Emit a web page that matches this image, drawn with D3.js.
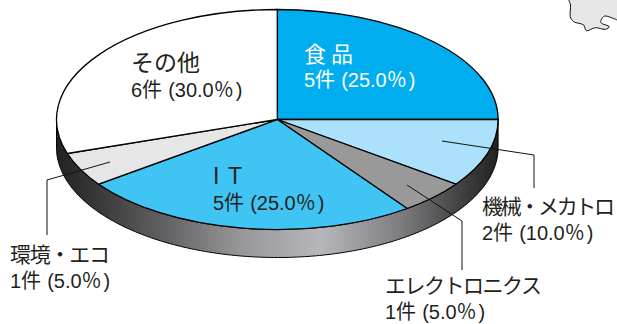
<!DOCTYPE html>
<html lang="ja"><head><meta charset="utf-8">
<script src="https://cdn.jsdelivr.net/npm/d3@7"></script>
<style>html,body{margin:0;background:#fff}svg{display:block}text{font-family:"Liberation Sans","Noto Sans CJK JP",sans-serif}</style>
</head><body><svg id="c" width="617" height="324"></svg>
<script>
const categories=["食品","機械・メカトロ","エレクトロニクス","I T","環境・エコ","その他"];
const counts=[5,2,1,5,1,6];
const shares=["25.0","10.0","5.0","25.0","5.0","30.0"];
const colors=["#00aeef","#abe1fa","#999999","#3fc4f4","#e6e6e6","#ffffff"];
const textColors=["#fff","#231f20","#231f20","#231f20","#231f20","#231f20"];
const W=617,H=324,cx=277.3,cy=119.5,rx=220.8,ry=110,depth=28;
const labelLayout=[
 {x:304,y:62,y2:87,w:49,ts:22},
 {x:482,y:214,y2:240,w:133,ts:21},
 {x:385,y:293,y2:319,w:157,ts:21},
 {x:213,y:184,y2:210,w:29,ts:23},
 {x:10,y:262,y2:288,w:100,ts:21},
 {x:131,y:71,y2:97,w:69,ts:23}];
const leaders=[null,[[442,141],[534,155],[534,188]],[[407,185],[462,221],[462,270]],null,[[110,162],[47,180],[47,235]],null];
const mapOutline=[[568.7,0],[570.5,5],[570.3,16.7],[573.7,21.7],[583.7,25],[586.3,30.7],[595.3,27.7],[605.3,29.3],[609.3,26.7],[601,22.7],[602,18.3],[604.7,16],[617,20]];
const svg=d3.select("#c");
const defs=svg.append("defs");
const grad=defs.append("linearGradient").attr("id","side").attr("gradientUnits","userSpaceOnUse").attr("x1",cx-rx).attr("x2",cx+rx).attr("y1",0).attr("y2",0);
[[0,"#222222"],[.1,"#3a3a3b"],[.25,"#636365"],[.42,"#98989b"],[.6,"#b6b7bb"],[.78,"#7d7d80"],[.9,"#474748"],[1,"#222222"]].forEach(d=>grad.append("stop").attr("offset",d[0]).attr("stop-color",d[1]));
const line=d3.line().curve(d3.curveCatmullRom);
svg.append("path").attr("d",line(mapOutline)+`L${W},0Z`).attr("fill","#e6e6e6").attr("stroke","none");
svg.append("path").attr("d",line(mapOutline)).attr("fill","none").attr("stroke","#111").attr("stroke-width",1);
const arcs=d3.pie().sort(null)(counts);
const px=d3.scaleLinear().domain([-1,1]).range([cx-rx,cx+rx]);
const py=d3.scaleLinear().domain([-1,1]).range([cy-ry,cy+ry]);
const pts=[];for(let i=0;i<=180;i++){const a=Math.PI*i/180;pts.push([Math.cos(a),Math.sin(a)]);}
const lower=pts.map(p=>[px(p[0]),py(p[1])+depth]);
const upper=pts.map(p=>[px(p[0]),py(p[1])]).reverse();
svg.append("path").attr("d",d3.line()(lower.concat(upper))+"Z").attr("fill","url(#side)").attr("stroke","#000").attr("stroke-width",1);
const arc=d3.arc().innerRadius(0).outerRadius(1);
const g=svg.append("g").attr("transform",`translate(${cx},${cy}) scale(${rx},${ry})`);
g.selectAll("path").data(arcs).join("path").attr("d",arc).attr("fill",(d,i)=>colors[i]).attr("stroke","#000").attr("stroke-width",1.3).attr("vector-effect","non-scaling-stroke");
leaders.forEach(l=>{if(l)svg.append("path").attr("d",d3.line()(l)).attr("fill","none").attr("stroke","#111").attr("stroke-width",1);});
categories.forEach((c,i)=>{const L=labelLayout[i];
 svg.append("text").attr("x",L.x).attr("y",L.y).attr("font-size",L.ts).attr("fill",textColors[i])
   .attr("textLength",L.w).attr("lengthAdjust","spacing").text(c);
 const t=svg.append("text").attr("x",L.x).attr("y",L.y2).attr("font-size",20).attr("fill",textColors[i]);
 t.append("tspan").text(`${counts[i]}件`);
 t.append("tspan").attr("dx",6).text("(");
 t.append("tspan").text(shares[i]);
 t.append("tspan").attr("font-family","Noto Sans CJK JP").text("％");
 t.append("tspan").attr("dx",2).text(")");
});
</script></body></html>
